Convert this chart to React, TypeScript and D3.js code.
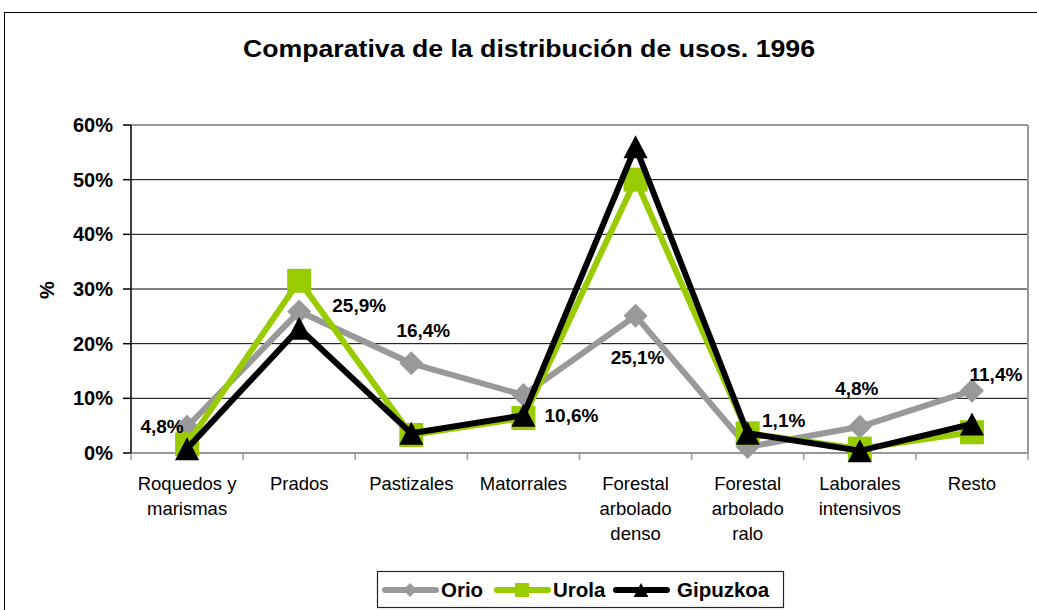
import React from "react";
import * as d3 from "d3";

const categories: string[][] = [
  ["Roquedos y", "marismas"],
  ["Prados"],
  ["Pastizales"],
  ["Matorrales"],
  ["Forestal", "arbolado", "denso"],
  ["Forestal", "arbolado", "ralo"],
  ["Laborales", "intensivos"],
  ["Resto"],
];
const orio = [4.8, 25.9, 16.4, 10.6, 25.1, 1.1, 4.8, 11.4];
const urola = [1.6, 31.5, 3.3, 6.4, 50.0, 3.6, 0.8, 3.8];
const gipuzkoa = [0.8, 22.8, 3.6, 6.9, 56.0, 3.6, 0.4, 5.3];
const yTicks = [0, 10, 20, 30, 40, 50, 60];
const orioLabels = ["4,8%", "25,9%", "16,4%", "10,6%", "25,1%", "1,1%", "4,8%", "11,4%"];
// label placement relative to point (style, not data)
const labelOffsets: [number, number][] = [
  [-25, 0], [60, -6], [12, -33], [48, 20], [2, 42], [36, -26], [-3, -38], [24, -16],
];

const W = 1037;
const H = 610;
const M = { left: 131, top: 125, right: 1028, bottom: 453 };
const GRAY = "#999999";
const GREEN = "#99CC00";
const BLACK = "#000000";
const FONT = "'Liberation Sans', Arial, Helvetica, sans-serif";

function Marker({ type, x, y, color, s }: { type: string; x: number; y: number; color: string; s: number }) {
  if (type === "diamond") {
    return <path d={`M${x},${y - s}L${x + s},${y}L${x},${y + s}L${x - s},${y}Z`} fill={color} />;
  }
  if (type === "square") {
    return <rect x={x - s} y={y - s} width={2 * s} height={2 * s} fill={color} />;
  }
  return <path d={`M${x},${y - s}L${x + s * 1.05},${y + s}L${x - s * 1.05},${y + s}Z`} fill={color} />;
}

export default function App() {
  const x = d3
    .scaleBand<number>()
    .domain(d3.range(categories.length))
    .range([M.left, M.right]);
  const y = d3.scaleLinear().domain([0, 60]).range([M.bottom, M.top]);
  const cx = (i: number) => (x(i) as number) + x.bandwidth() / 2;
  const line = d3
    .line<number>()
    .x((_, i) => cx(i))
    .y((d) => y(d));

  const series = [
    { name: "Orio", data: orio, color: GRAY, marker: "diamond", s: 12 },
    { name: "Urola", data: urola, color: GREEN, marker: "square", s: 12 },
    { name: "Gipuzkoa", data: gipuzkoa, color: BLACK, marker: "triangle", s: 11.5 },
  ];

  const legendX = 377;
  const legendY = 571;
  const legendItems = [
    { ...series[0], lx: 382, tx: 441 },
    { ...series[1], lx: 494, tx: 553 },
    { ...series[2], lx: 613, tx: 677 },
  ];

  return (
    <svg
      width={W}
      height={H}
      style={{ position: "absolute", left: 0, top: 0, background: "#fff" }}
      fontFamily={FONT}
    >
      <rect x={0} y={0} width={W} height={H} fill="#fff" />
      <rect x={4.5} y={12.5} width={W + 10} height={H + 10} fill="none" stroke="#000" strokeWidth={1} />
      <text x={243} y={57} fontSize={24} fontWeight="bold" textLength={572} lengthAdjust="spacingAndGlyphs">
        Comparativa de la distribución de usos. 1996
      </text>

      {/* gridlines */}
      {yTicks.map((t) => (
        <line key={t} x1={M.left} x2={M.right} y1={y(t)} y2={y(t)} stroke={t === 60 ? GRAY : "#000"} strokeWidth={t === 60 ? 2 : 1} />
      ))}
      <line x1={M.right} x2={M.right} y1={M.top} y2={M.bottom} stroke={GRAY} strokeWidth={2} />
      <line x1={M.left} x2={M.right} y1={M.bottom} y2={M.bottom} stroke={GRAY} strokeWidth={2} />
      <line x1={M.left} x2={M.left} y1={M.top} y2={M.bottom} stroke="#000" strokeWidth={1.5} />
      {yTicks.map((t) => (
        <g key={"yt" + t}>
          <line x1={M.left - 8} x2={M.left} y1={y(t)} y2={y(t)} stroke="#000" strokeWidth={1.5} />
          <text x={113} y={y(t) + 7} textAnchor="end" fontSize={20} fontWeight="bold">
            {t}%
          </text>
        </g>
      ))}
      <text transform={`translate(54,290) rotate(-90)`} textAnchor="middle" fontSize={20} fontWeight="bold">
        %
      </text>

      {/* x ticks */}
      {d3.range(categories.length + 1).map((i) => {
        const xx = i < categories.length ? (x(i) as number) : M.right;
        return <line key={"xt" + i} x1={xx} x2={xx} y1={M.bottom} y2={M.bottom + 7} stroke={GRAY} strokeWidth={1.5} />;
      })}
      {categories.map((lines, i) => (
        <text key={"xl" + i} x={cx(i)} y={490} textAnchor="middle" fontSize={18.5}>
          {lines.map((l, j) => (
            <tspan key={j} x={cx(i)} dy={j === 0 ? 0 : 25}>
              {l}
            </tspan>
          ))}
        </text>
      ))}

      {/* series */}
      {series.map((s) => (
        <g key={s.name}>
          <path d={line(s.data) || ""} fill="none" stroke={s.color} strokeWidth={6} strokeLinejoin="miter" />
          {s.data.map((v, i) => (
            <Marker key={i} type={s.marker} x={cx(i)} y={y(v)} color={s.color} s={s.s} />
          ))}
        </g>
      ))}

      {/* data labels */}
      {orio.map((v, i) => (
        <text
          key={"lab" + i}
          x={cx(i) + labelOffsets[i][0]}
          y={y(v) + labelOffsets[i][1] + 6.5}
          textAnchor="middle"
          fontSize={19}
          fontWeight="bold"
        >
          {orioLabels[i]}
        </text>
      ))}

      {/* legend */}
      <rect x={legendX + 0.5} y={legendY + 0.5} width={406} height={36} fill="#fff" stroke="#222" strokeWidth={1.2} />
      {legendItems.map((it) => (
        <g key={"lg" + it.name}>
          <line x1={it.lx + 3} x2={it.lx + 54} y1={legendY + 19} y2={legendY + 19} stroke={it.color} strokeWidth={6} strokeLinecap="round" />
          <Marker type={it.marker} x={it.lx + 28} y={legendY + 19} color={it.color} s={7} />
          <text x={it.tx} y={legendY + 26} fontSize={20.5} fontWeight="bold">
            {it.name}
          </text>
        </g>
      ))}
    </svg>
  );
}
